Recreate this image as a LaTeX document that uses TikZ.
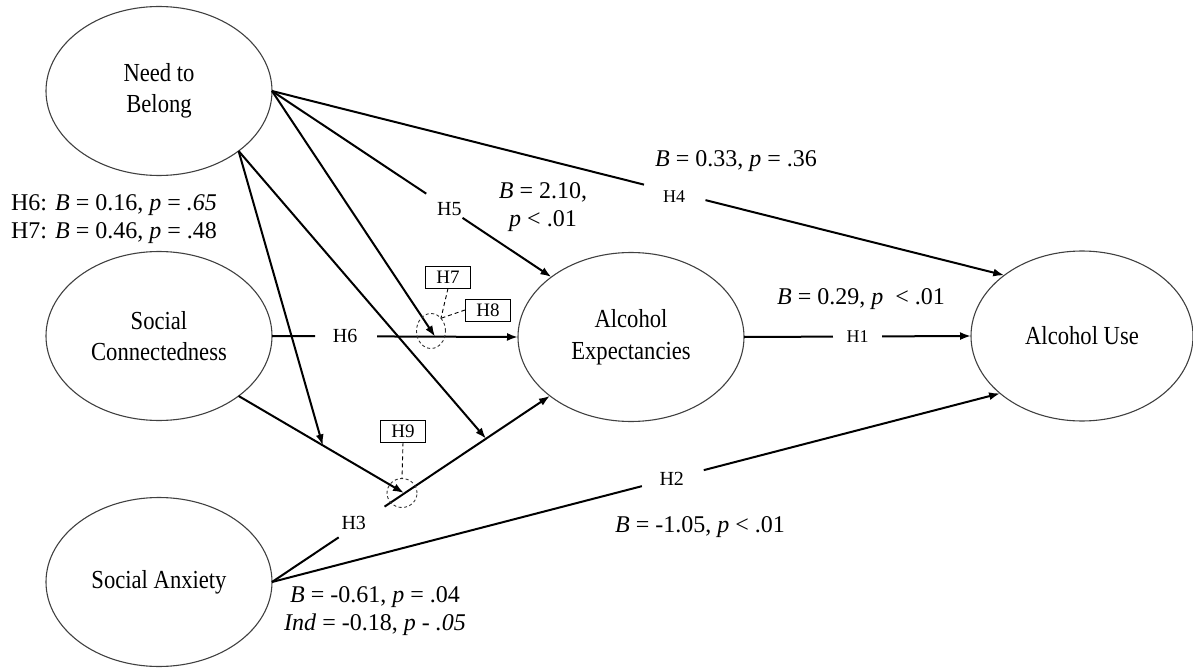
\documentclass[tikz,border=0pt]{standalone}
\usepackage{fontspec}
\setmainfont{Liberation Serif}
\newfontfamily\latfont{Liberation Serif}[FakeStretch=0.87]
\usetikzlibrary{shapes.geometric,arrows.meta,calc}
\begin{document}
\begin{tikzpicture}[x=1pt,y=-1pt,
  latent/.style={ellipse,draw=black!75,line width=1.1pt,minimum width=226pt,minimum height=169pt,inner sep=0pt,outer sep=0pt,align=center,font=\latfont\fontsize{26}{31.5}\selectfont},
  link/.style={line width=2pt},
  arr/.style={link,-{Latex[length=11pt,width=8pt]}},
  hlab/.style={font=\fontsize{20}{24}\selectfont,inner sep=0pt},
  stat/.style={font=\fontsize{24}{28}\selectfont,align=center,inner sep=0pt},
  hbox/.style={draw,line width=0.9pt,minimum width=45pt,minimum height=22pt,inner sep=0pt,font=\fontsize{19}{22}\selectfont},
  modc/.style={ellipse,draw=black!80,dash pattern=on 3pt off 2.5pt,line width=0.9pt,inner sep=0pt,outer sep=0pt},
  lead/.style={dash pattern=on 4pt off 3pt,line width=0.9pt}
]
\useasboundingbox (0,0) rectangle (1193,668);

% latent variables
\node[latent] (NtB) at (159,91) {Need to\\Belong};
\node[latent] (SC) at (159,336) {Social\\Connectedness};
\node[latent] (SA) at (159,582) {Social Anxiety};
\node[latent] (AE) at (631,337) {Alcohol\\Expectancies};
\node[latent,minimum width=222pt,minimum height=170pt] (AU) at (1082,336) {Alcohol Use};

% H1
\path (AE.east) -- coordinate[pos=0.392](h1a) coordinate[pos=0.608](h1b) node[hlab,pos=0.5,font=\fontsize{18}{22}\selectfont]{H1} (AU.west);
\draw[link] (AE.east) -- (h1a);
\draw[arr] (h1b) -- (AU.west);

% H6
\path (SC.east) -- coordinate[pos=0.175](h6a) coordinate[pos=0.427](h6b) coordinate[pos=0.663](h7tip) node[hlab,pos=0.297]{H6} (AE.west);
\draw[link] (SC.east) -- (h6a);
\draw[arr] (h6b) -- (AE.west);

% H5
\path (NtB.east) -- coordinate[pos=0.552](h5a) coordinate[pos=0.682](h5b) node[hlab,pos=0.635]{H5} (AE.143.8);
\draw[link] (NtB.east) -- (h5a);
\draw[arr] (h5b) -- (AE.143.8);

% H4
\path (NtB.east) -- coordinate[pos=0.508](h4a) coordinate[pos=0.592](h4b) node[hlab,pos=0.549,yshift=-4.5pt,font=\fontsize{18}{22}\selectfont]{H4} (AU.142.7);
\draw[link] (NtB.east) -- (h4a);
\draw[arr] (h4b) -- (AU.142.7);

% H2
\path (SA.east) -- coordinate[pos=0.508](h2a) coordinate[pos=0.593](h2b) node[hlab,pos=0.549]{H2} (AU.215.7);
\draw[link] (SA.east) -- (h2a);
\draw[arr] (h2b) -- (AU.215.7);

% H3
\path (SA.east) -- coordinate[pos=0.240](h3a) coordinate[pos=0.405](h3b) node[hlab,pos=0.294,yshift=4.5pt]{H3} coordinate[pos=0.77](h3tip) (AE.216.9);
\draw[link] (SA.east) -- (h3a);
\draw[arr] (h3b) -- (AE.216.9);

% moderation paths
\coordinate (h9tip) at (404,493);
\path (SC.-37.3) -- coordinate[pos=0.509](sctip) (h9tip);
\draw[arr] (SC.-37.3) -- (h9tip);
\draw[arr] (NtB.-37.3) -- (sctip);
\draw[arr] (NtB.-37.3) -- (h3tip);
\draw[arr] (NtB.east) -- (h7tip);

% moderation markers
\node[modc,minimum width=29pt,minimum height=35pt] (c78) at (431,331) {};
\node[modc,minimum width=30pt,minimum height=29pt] (c9) at (402,493) {};
\node[hbox] (b7) at (448,277) {H7};
\node[hbox] (b8) at (488,310) {H8};
\node[hbox] (b9) at (403,431) {H9};
\draw[lead] (b7.south) -- (c78.52);
\draw[lead] (b8.west) -- (c78.52);
\draw[lead] (b9.south) -- (c9.north);

% statistics
\node[stat] (s5) at (543,207) {\textit{B} = 2.10,\\\textit{p} < .01};
\node[stat] (s4) at (736,161) {\textit{B} = 0.33, \textit{p} = .36};
\node[stat] (s1) at (861,299) {\textit{B} = 0.29, \textit{p} \ < .01};
\node[stat] (s67) at (114,219) {H6: \textit{B} = 0.16, \textit{p} = \textit{.65}\\H7: \textit{B} = 0.46, \textit{p} = .48};
\node[stat] (s2) at (700,527) {\textit{B} = -1.05, \textit{p} < .01};
\node[stat] (s3) at (375,611) {\textit{B} = -0.61, \textit{p} = .04\\\textit{Ind} = -0.18, \textit{p} - \textit{.05}};
\end{tikzpicture}
\end{document}
